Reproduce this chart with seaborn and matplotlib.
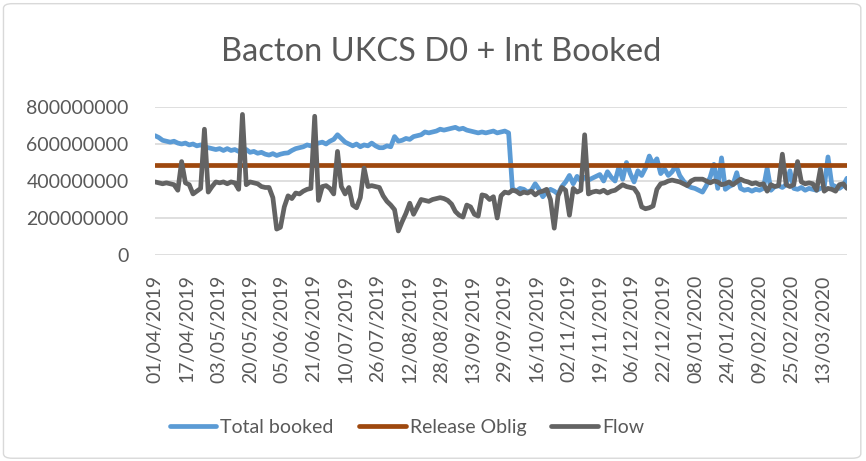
import numpy as np
import pandas as pd
import matplotlib
matplotlib.use("Agg")
import matplotlib.pyplot as plt
import seaborn as sns
from matplotlib.patches import FancyBboxPatch

booked = [
    645, 635, 620, 615, 610, 615, 605, 600, 605, 595, 600, 590, 595, 585, 580, 575,
    570, 575, 565, 575, 565, 570, 560, 565, 570, 555, 560, 550, 555, 545, 540, 548,
    538, 545, 550, 552, 565, 575, 580, 585, 595, 590, 600, 605, 610, 600, 615, 625,
    650, 630, 610, 600, 590, 600, 585, 595, 590, 605, 590, 580, 580, 590, 585, 640,
    615, 620, 630, 625, 640, 645, 650, 665, 660, 665, 670, 680, 675, 680, 685, 690,
    680, 685, 675, 670, 665, 660, 665, 660, 665, 670, 660, 665, 670, 660, 360, 345,
    360, 355, 340, 350, 385, 355, 315, 340, 355, 345, 330, 370, 395, 430, 385, 425,
    400, 420, 405, 415, 425, 435, 400, 450, 420, 400, 475, 410, 500, 440, 395, 455,
    430, 470, 535, 490, 520, 440, 465, 430, 450, 485, 430, 400, 375, 365, 360, 350,
    340, 375, 420, 490, 360, 525, 355, 370, 380, 445, 360, 350, 355, 345, 355, 350,
    360, 470, 350, 370, 375, 365, 380, 455, 360, 355, 365, 350, 360, 355, 350, 360,
    365, 530, 380, 370, 360, 375, 415,
]
flow = [
    395, 390, 385, 390, 385, 380, 350, 505, 390, 380, 330, 345, 360, 680, 340, 370,
    395, 390, 395, 385, 395, 390, 355, 760, 380, 395, 390, 385, 370, 365, 365, 310,
    140, 150, 260, 320, 305, 335, 330, 345, 355, 360, 750, 295, 370, 375, 360, 330,
    560, 370, 330, 365, 270, 255, 310, 470, 370, 375, 370, 365, 320, 290, 270, 245,
    130, 180, 225, 280, 220, 260, 300, 295, 290, 300, 305, 310, 305, 295, 275, 235,
    215, 205, 270, 260, 220, 210, 325, 320, 300, 315, 200, 320, 340, 335, 350, 345,
    330, 340, 335, 345, 325, 340, 345, 355, 300, 145, 320, 365, 350, 215, 360, 340,
    350, 650, 330, 340, 345, 340, 350, 335, 345, 350, 365, 380, 370, 365, 360, 330,
    260, 250, 255, 265, 355, 385, 390, 400, 405, 400, 395, 385, 375, 400, 410, 410,
    410, 400, 390, 400, 395, 380, 385, 395, 380, 395, 410, 400, 395, 385, 390, 380,
    385, 345, 380, 370, 375, 545, 380, 370, 380, 505, 395, 385, 390, 385, 350, 465,
    345, 360, 355, 345, 380, 385, 360,
]
release_oblig = 485  # millions, flat

tick_labels = [
    "01/04/2019", "17/04/2019", "03/05/2019", "20/05/2019", "05/06/2019", "21/06/2019",
    "10/07/2019", "26/07/2019", "12/08/2019", "28/08/2019", "13/09/2019", "29/09/2019",
    "16/10/2019", "02/11/2019", "19/11/2019", "06/12/2019", "22/12/2019", "08/01/2020",
    "24/01/2020", "09/02/2020", "25/02/2020", "13/03/2020",
]
n_days = 349      # category slots on the axis, a label every 16th
label_every = 16

# samples spread evenly over the category range
day = np.linspace(0, n_days - 1, len(booked))
df = pd.concat([
    pd.DataFrame({"day": day, "value": np.array(booked) * 1e6, "series": "Total booked"}),
    pd.DataFrame({"day": day, "value": release_oblig * 1e6, "series": "Release Oblig"}),
    pd.DataFrame({"day": np.linspace(0, n_days - 1, len(flow)), "value": np.array(flow) * 1e6,
                  "series": "Flow"}),
])

sns.set_style("white")
plt.rcParams["font.family"] = ["Lato", "DejaVu Sans"]

fig = plt.figure(figsize=(8.66, 4.61), dpi=100)
ax = fig.add_axes([155 / 866, 1 - 255 / 461, 692 / 866, 148 / 461])

palette = {"Total booked": "#5B9BD5", "Release Oblig": "#9E480E", "Flow": "#636363"}
sns.lineplot(data=df, x="day", y="value", hue="series", palette=palette,
             linewidth=3.4, ax=ax, legend=False, estimator=None)

ax.set_xlim(0, n_days - 1)
ax.set_ylim(0, 800e6)
ax.set_yticks([0, 200e6, 400e6, 600e6, 800e6])
ax.set_yticklabels(["0", "200000000", "400000000", "600000000", "800000000"])
ax.set_xticks(np.arange(len(tick_labels)) * label_every)
ax.set_xticklabels(tick_labels, rotation=90)
ax.tick_params(axis="both", colors="#595959", labelsize=14, length=0)
ax.tick_params(axis="y", pad=19)
ax.tick_params(axis="x", pad=14)
ax.grid(axis="y", color="#D9D9D9", linewidth=1.2)
ax.set_axisbelow(True)
for s in ax.spines.values():
    s.set_visible(False)
ax.set_xlabel("")
ax.set_ylabel("")

fig.text(441 / 866, 1 - 52 / 461, "Bacton UKCS D0 + Int Booked", ha="center", va="center",
         fontsize=23.5, color="#595959")

handles = [plt.Line2D([], [], color=palette[k], linewidth=3.4, solid_capstyle="round")
           for k in ["Total booked", "Release Oblig", "Flow"]]
fig.legend(handles, ["Total booked", "Release Oblig", "Flow"], loc="center",
           bbox_to_anchor=(407 / 866, 1 - 427 / 461), ncol=3, frameon=False, fontsize=14,
           handlelength=2.4, handletextpad=0.2, columnspacing=1.3, labelcolor="#595959")

border = FancyBboxPatch((0.004, 0.006), 0.99, 0.986, boxstyle="round,pad=0,rounding_size=0.01",
                        transform=fig.transFigure, facecolor="none", edgecolor="#D9D9D9", linewidth=1)
fig.patches.append(border)

fig.savefig("out.png", dpi=100)
